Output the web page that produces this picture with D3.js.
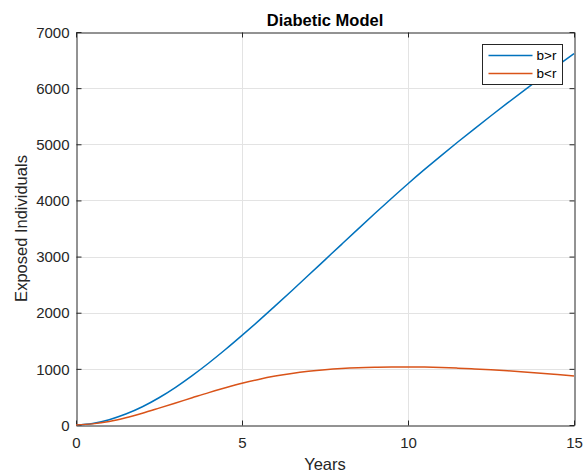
<!DOCTYPE html>
<html>
<head>
<meta charset="utf-8">
<script src="https://cdn.jsdelivr.net/npm/d3@7"></script>
<style>
  html, body { margin: 0; padding: 0; background: #fff; }
  svg { display: block; font-family: "Liberation Sans", Arial, Helvetica, sans-serif; }
</style>
</head>
<body>
<svg id="chart" width="587" height="475"></svg>
<script>
// Time in years
const years = [0, 0.5, 1, 1.5, 2, 2.5, 3, 3.5, 4, 4.5, 5, 5.5, 6, 6.5, 7, 7.5,
               8, 8.5, 9, 9.5, 10, 10.5, 11, 11.5, 12, 12.5, 13, 13.5, 14, 14.5, 15];

// Exposed individuals, case b > r
const exposedBgtR = [0, 28, 95, 195, 325, 485, 671, 879, 1104, 1344, 1596, 1855, 2121, 2392, 2666, 2942,
                     3218, 3493, 3766, 4035, 4298, 4552, 4799, 5040, 5276, 5508, 5736, 5961, 6182, 6400, 6615];

// Exposed individuals, case b < r
const exposedBltR = [0, 20, 62, 128, 210, 300, 392, 485, 577, 662, 742, 812, 871, 919, 957, 986,
                     1007, 1021, 1029, 1033, 1034, 1031, 1024, 1013, 999, 983, 965, 945, 923, 899, 874];

const seriesNames = ["b>r", "b<r"];
const seriesColors = ["#0072BD", "#D95319"];
const xTicks = [0, 5, 10, 15];
const yTicks = [0, 1000, 2000, 3000, 4000, 5000, 6000, 7000];

(function draw() {
  const svg = d3.select("#chart");
  const plotL = 76, plotR = 574, plotT = 32, plotB = 425;
  const axisColor = "#262626";

  const x = d3.scaleLinear().domain([0, 15]).range([plotL, plotR]);
  const y = d3.scaleLinear().domain([0, 7000]).range([plotB, plotT]);

  // grid
  const grid = svg.append("g").attr("stroke", "#e3e3e3").attr("stroke-width", 1);
  grid.selectAll("line.gx").data(xTicks.slice(1, -1)).join("line")
    .attr("x1", d => Math.round(x(d)) + 0.5).attr("x2", d => Math.round(x(d)) + 0.5)
    .attr("y1", plotT).attr("y2", plotB);
  grid.selectAll("line.gy").data(yTicks.slice(1, -1)).join("line")
    .attr("y1", d => Math.round(y(d)) + 0.5).attr("y2", d => Math.round(y(d)) + 0.5)
    .attr("x1", plotL).attr("x2", plotR);

  // axes: labelled bottom/left, plus a top/right box with inward ticks
  const fmt = d3.format("d");
  const axB = svg.append("g").attr("transform", `translate(0,${plotB + 0.5})`)
    .call(d3.axisBottom(x).tickValues(xTicks).tickFormat(fmt).tickSizeInner(-5).tickSizeOuter(0));
  const axT = svg.append("g").attr("transform", `translate(0,${plotT + 0.5})`)
    .call(d3.axisTop(x).tickValues(xTicks).tickFormat("").tickSizeInner(-5).tickSizeOuter(0));
  const axL = svg.append("g").attr("transform", `translate(${plotL + 0.5},0)`)
    .call(d3.axisLeft(y).tickValues(yTicks).tickFormat(fmt).tickSizeInner(-5).tickSizeOuter(0));
  const axR = svg.append("g").attr("transform", `translate(${plotR + 0.5},0)`)
    .call(d3.axisRight(y).tickValues(yTicks).tickFormat("").tickSizeInner(-5).tickSizeOuter(0));

  [axB, axT, axL, axR].forEach(g => {
    g.select(".domain").attr("stroke", axisColor);
    g.selectAll(".tick line").attr("stroke", axisColor);
    g.selectAll(".tick text").attr("fill", axisColor).attr("font-size", 15);
  });
  axL.selectAll(".tick text").attr("x", -7).attr("dy", "0.35em");
  axB.selectAll(".tick text").attr("y", 22).attr("dy", 0);

  // series lines
  const series = [exposedBgtR, exposedBltR];
  const line = d3.line().x((d, i) => x(years[i])).y(d => y(d)).curve(d3.curveMonotoneX);
  svg.append("g").selectAll("path").data(series).join("path")
    .attr("d", d => line(d))
    .attr("fill", "none")
    .attr("stroke", (d, i) => seriesColors[i])
    .attr("stroke-width", 1.5);

  // title and axis labels
  svg.append("text").attr("x", (plotL + plotR) / 2).attr("y", 26)
    .attr("text-anchor", "middle").attr("font-size", 16.5).attr("font-weight", "bold")
    .attr("fill", "#000").text("Diabetic Model");
  svg.append("text").attr("x", (plotL + plotR) / 2).attr("y", 470)
    .attr("text-anchor", "middle").attr("font-size", 16.5).attr("fill", axisColor).text("Years");
  svg.append("text").attr("transform", `translate(27,${(plotT + plotB) / 2}) rotate(-90)`)
    .attr("text-anchor", "middle").attr("font-size", 16.5).attr("fill", axisColor).text("Exposed Individuals");

  // legend
  const lg = svg.append("g").attr("transform", "translate(482.5,44.5)");
  lg.append("rect").attr("width", 80).attr("height", 40)
    .attr("fill", "#fff").attr("stroke", axisColor).attr("stroke-width", 1);
  const items = lg.selectAll("g.item").data(seriesNames).join("g")
    .attr("transform", (d, i) => `translate(0,${11 + i * 18})`);
  items.append("line").attr("x1", 6).attr("x2", 50).attr("y1", 0).attr("y2", 0)
    .attr("stroke", (d, i) => seriesColors[i]).attr("stroke-width", 1.5);
  items.append("text").attr("x", 54).attr("y", 0).attr("dy", "0.35em")
    .attr("font-size", 13.5).attr("fill", "#000").text(d => d);
})();
</script>
</body>
</html>
